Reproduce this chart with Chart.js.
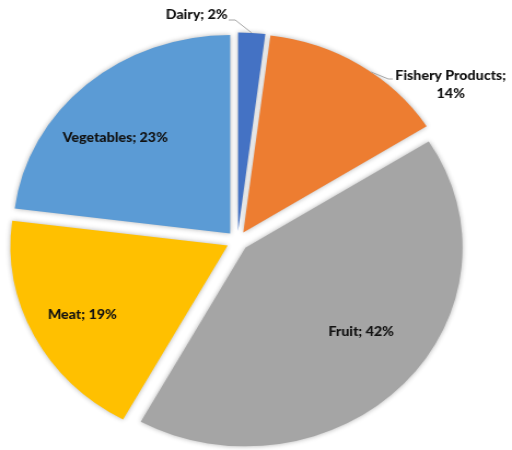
<!DOCTYPE html>
<html>
<head>
<meta charset="utf-8">
<script src="https://cdn.jsdelivr.net/npm/chart.js@4.4.1/dist/chart.umd.min.js"></script>
<style>
  html, body { margin: 0; padding: 0; background: #fff; overflow: hidden; }
  /* the reference pie is slightly wider than tall */
  #wrap { width: 468px; height: 450px; transform: scaleX(1.094); transform-origin: 0 0; }
</style>
</head>
<body>
<div id="wrap"><canvas id="pie"></canvas></div>
<script>
const categories = ['Dairy', 'Fishery Products', 'Fruit', 'Meat', 'Vegetables'];
const shares = [2, 14, 42, 19, 23];
const sliceColors = ['#4472C4', '#ED7D31', '#A5A5A5', '#FFC000', '#5B9BD5'];

const EXPLODE = 10;
const FONT = '900 13px Lato';
const TEXT_COLOR = '#111111';

// outside labels, offsets from the pie centre
const outsideLayout = {
    'Dairy': { edgeDeg: null, elbow: [-2, -221], lineEnd: [-8, -221], text: [-9, -226], align: 'right', lines: ['Dairy; 2%'] },
    'Fishery Products': { edgeDeg: 36, elbow: [138, -162], lineEnd: [142, -162], text: [195, -165], align: 'center', lines: ['Fishery Products;', '14%'] }
};
// inside labels: angle (deg, clockwise from top) and distance from the pie centre
const insideLayout = {
    'Fruit': [128.7, 145],
    'Meat': [242.4, 160],
    'Vegetables': [312.7, 152]
};

// push every slice out along its mid angle
const explodePlugin = {
    id: 'explode',
    beforeDatasetDraw(chart, args) {
        const ctx = chart.ctx;
        args.meta.data.forEach(arc => {
            const mid = (arc.startAngle + arc.endAngle) / 2;
            ctx.save();
            ctx.translate(Math.cos(mid) * EXPLODE, Math.sin(mid) * EXPLODE);
            ctx.shadowColor = 'rgba(0,0,0,0.3)';
            ctx.shadowBlur = 5;
            arc.draw(ctx);
            ctx.restore();
        });
        return false;
    }
};

const labelPlugin = {
    id: 'sliceLabels',
    afterDatasetsDraw(chart) {
        const ctx = chart.ctx;
        const arcs = chart.getDatasetMeta(0).data;
        ctx.save();
        ctx.font = FONT;
        ctx.fillStyle = TEXT_COLOR;
        ctx.textBaseline = 'middle';
        arcs.forEach((arc, i) => {
            const mid = (arc.startAngle + arc.endAngle) / 2;
            const r = arc.outerRadius;
            const ox = arc.x + Math.cos(mid) * EXPLODE;
            const oy = arc.y + Math.sin(mid) * EXPLODE;
            const lay = outsideLayout[categories[i]];
            if (lay) {
                const a = lay.edgeDeg === null ? mid : (lay.edgeDeg - 90) * Math.PI / 180;
                ctx.beginPath();
                ctx.strokeStyle = '#a6a6a6';
                ctx.lineWidth = 1;
                ctx.moveTo(ox + Math.cos(a) * r, oy + Math.sin(a) * r);
                ctx.lineTo(arc.x + lay.elbow[0], arc.y + lay.elbow[1]);
                ctx.lineTo(arc.x + lay.lineEnd[0], arc.y + lay.lineEnd[1]);
                ctx.stroke();
                ctx.textAlign = lay.align;
                lay.lines.forEach((line, k) => {
                    ctx.fillText(line, arc.x + lay.text[0], arc.y + lay.text[1] + k * 18);
                });
            } else {
                const [deg, dist] = insideLayout[categories[i]];
                const a = (deg - 90) * Math.PI / 180;
                ctx.textAlign = 'center';
                ctx.fillText(categories[i] + '; ' + shares[i] + '%',
                    arc.x + Math.cos(a) * dist, arc.y + Math.sin(a) * dist);
            }
        });
        ctx.restore();
    }
};

const pieChart = new Chart(document.getElementById('pie'), {
    type: 'pie',
    data: {
        labels: categories,
        datasets: [{
            data: shares,
            backgroundColor: sliceColors,
            borderWidth: 0
        }]
    },
    options: {
        responsive: true,
        maintainAspectRatio: false,
        animation: false,
        events: [],
        radius: 198.5,
        layout: { padding: { top: 32, right: 34, bottom: 0, left: 0 } },
        plugins: {
            legend: { display: false },
            tooltip: { enabled: false }
        }
    },
    plugins: [explodePlugin, labelPlugin]
});
</script>
</body>
</html>
